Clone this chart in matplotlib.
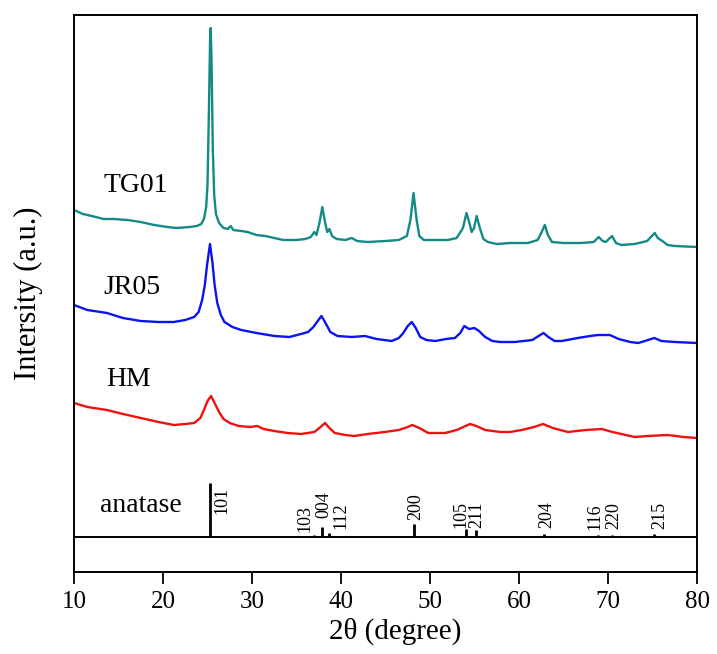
import matplotlib
matplotlib.use("Agg")
import matplotlib.pyplot as plt

plt.rcParams['font.family'] = ['Liberation Serif', 'DejaVu Serif']
plt.rcParams['mathtext.fontset'] = 'stix'

# ---- data (2theta in degree, intensity in a.u., curves already offset) ----
tg01_x = [10.0, 11.0, 12.0, 13.3, 14.5, 16.0, 17.5, 19.0, 20.5, 21.5, 23.0, 23.8, 24.3, 24.6,
          24.85, 25.0, 25.15, 25.3, 25.36, 25.45, 25.6, 25.75, 25.95, 26.3, 26.8, 27.3, 27.6,
          27.9, 28.8, 29.5, 30.5, 31.5, 32.5, 33.5, 35.0, 36.0, 36.6, 37.0, 37.25, 37.6, 37.9,
          38.2, 38.45, 38.7, 39.0, 39.5, 40.5, 41.2, 41.8, 43.0, 45.0, 46.5, 47.4, 47.8, 48.15,
          48.5, 48.8, 49.3, 50.5, 52.0, 53.0, 53.7, 54.1, 54.4, 54.68, 54.95, 55.24, 55.6, 56.0,
          56.5, 57.5, 59.0, 61.0, 62.1, 62.55, 62.9, 63.25, 63.7, 65.0, 67.0, 68.4, 68.95, 69.4,
          69.75, 70.45, 70.9, 71.5, 73.0, 74.4, 75.25, 75.6, 76.1, 76.7, 77.5, 80.0]
tg01_y = [362, 358, 356, 353, 353, 352, 350, 347, 345, 344, 345, 346, 348, 353,
          365, 387, 457, 537, 544, 512, 422, 377, 358, 349, 344, 343, 346,
          342, 341, 340, 337, 336, 334, 332, 332, 333, 335, 340, 337, 350, 365,
          350, 340, 343, 336, 333, 332, 334, 331, 330, 331, 332, 336, 352, 379,
          352, 336, 332, 332, 332, 334, 344, 359, 350, 340, 344, 356, 344, 333,
          330, 328, 329, 329, 332, 340, 347, 337, 330, 329, 329, 330, 335, 331,
          330, 336, 329, 327, 328, 331, 339, 334, 331, 327, 326, 325]

jr05_x = [10.0, 11.5, 13.7, 15.5, 17.5, 19.5, 21.2, 22.5, 23.5, 24.0, 24.4, 24.7, 24.95, 25.28,
          25.55, 25.8, 26.1, 26.5, 26.9, 27.8, 28.8, 30.5, 32.5, 34.2, 35.5, 36.3, 36.9, 37.3,
          37.8, 38.2, 38.8, 39.6, 41.2, 42.7, 44.0, 45.7, 46.5, 47.0, 47.5, 47.95, 48.4, 48.9,
          49.6, 50.6, 51.8, 52.8, 53.4, 53.85, 54.4, 55.0, 55.5, 56.2, 57.0, 57.9, 59.5, 61.5,
          62.2, 62.75, 63.3, 64.0, 64.8, 66.6, 68.0, 68.9, 70.2, 71.2, 72.5, 73.4, 74.5, 75.2,
          76.0, 77.5, 80.0]
jr05_y = [267, 262, 259, 254, 251, 250, 250, 252, 255, 260, 272, 287, 307, 328,
          310, 287, 269, 257, 250, 245, 242, 239, 236, 235, 238, 240, 245, 250,
          256, 250, 240, 236, 235, 236, 233, 231, 234, 239, 246, 250, 244, 235,
          232, 231, 233, 234, 239, 246, 243, 244, 241, 235, 231, 230, 230, 232,
          236, 239, 235, 231, 231, 234, 236, 237, 237, 233, 230, 229, 232, 234,
          231, 230, 229]

hm_x = [10.0, 11.5, 13.7, 15.5, 17.5, 19.5, 21.2, 22.5, 23.5, 24.2, 24.6, 25.0, 25.4, 25.8,
        26.3, 26.8, 27.5, 28.5, 29.8, 30.6, 31.3, 32.5, 34.0, 35.5, 37.0, 37.7, 38.2, 38.7,
        39.3, 40.5, 41.5, 43.0, 44.9, 46.5, 47.5, 48.0, 48.8, 49.8, 51.7, 53.0, 54.0, 54.5,
        55.2, 56.2, 57.9, 59.0, 60.3, 61.7, 62.7, 63.8, 65.5, 67.5, 69.3, 70.5, 72.0, 73.0,
        74.5, 76.7, 78.5, 80.0]
hm_y = [169, 165, 162, 158, 154, 150, 147, 148, 149, 154, 162, 171, 176, 169,
        160, 153, 149, 146, 145, 146, 143, 141, 139, 138, 140, 145, 149, 144,
        139, 137, 136, 138, 140, 142, 145, 147, 144, 139, 139, 142, 146, 148,
        146, 142, 140, 140, 142, 145, 148, 144, 140, 142, 143, 140, 137, 135,
        136, 137, 135, 134]

anatase_base = 35
anatase_pos = [25.3, 37.0, 37.9, 38.65, 48.15, 54.05, 55.2, 62.85, 68.9, 70.45, 75.15, 76.1]
anatase_int = [54, 2, 10, 4, 13, 8, 7, 3, 2, 2, 3, 1.5]
hkl_labels = ['101', '103', '004', '112', '200', '105', '211', '204', '116', '220', '215']
hkl_label_x = [26.6, 36.0, 38.1, 40.0, 48.4, 53.5, 55.3, 63.1, 68.5, 70.6, 75.8]
hkl_label_y = [72, 54, 67, 56, 65, 58, 57, 57, 55, 56, 57]

curve_names = ['TG01', 'JR05', 'HM', 'anatase']
name_x = [13.3, 13.3, 13.6, 12.9]
name_y = [386, 284, 193, 66]

xticks = [10, 20, 30, 40, 50, 60, 70, 80]

fig = plt.figure(figsize=(7.17, 6.54), dpi=100)
ax = fig.add_axes([74 / 717, 1 - 572 / 654, (697 - 74) / 717, (572 - 15) / 654])

ax.plot(tg01_x, tg01_y, color='#138a85', lw=1.7)
ax.plot(jr05_x, jr05_y, color='#0a14f0', lw=1.7)
ax.plot(hm_x, hm_y, color='#f01010', lw=1.7)

ax.axhline(anatase_base, color='black', lw=1.4)
ax.vlines(anatase_pos, anatase_base, [anatase_base + h for h in anatase_int], color='black', lw=2.0)
for lab, lx, ly in zip(hkl_labels, hkl_label_x, hkl_label_y):
    ax.text(lx, ly, lab, rotation=90, ha='center', va='center', fontsize=13)

for nm, nx, ny in zip(curve_names, name_x, name_y):
    ax.text(nx, ny, nm, ha='left', va='center', fontsize=20)

ax.set_xlim(10, 80)
ax.set_ylim(0, 557)
ax.set_yticks([])
ax.set_xticks(xticks)
ax.tick_params(axis='x', direction='out', length=8.5, width=1.3, labelsize=18, pad=5)
for s in ax.spines.values():
    s.set_linewidth(1.4)
ax.set_xlabel('2θ (degree)', fontsize=21)
ax.xaxis.set_label_coords(0.515, -0.082)
ax.set_ylabel('Intersity (a.u.)', fontsize=22, labelpad=22)

fig.savefig('out.png', dpi=100)
